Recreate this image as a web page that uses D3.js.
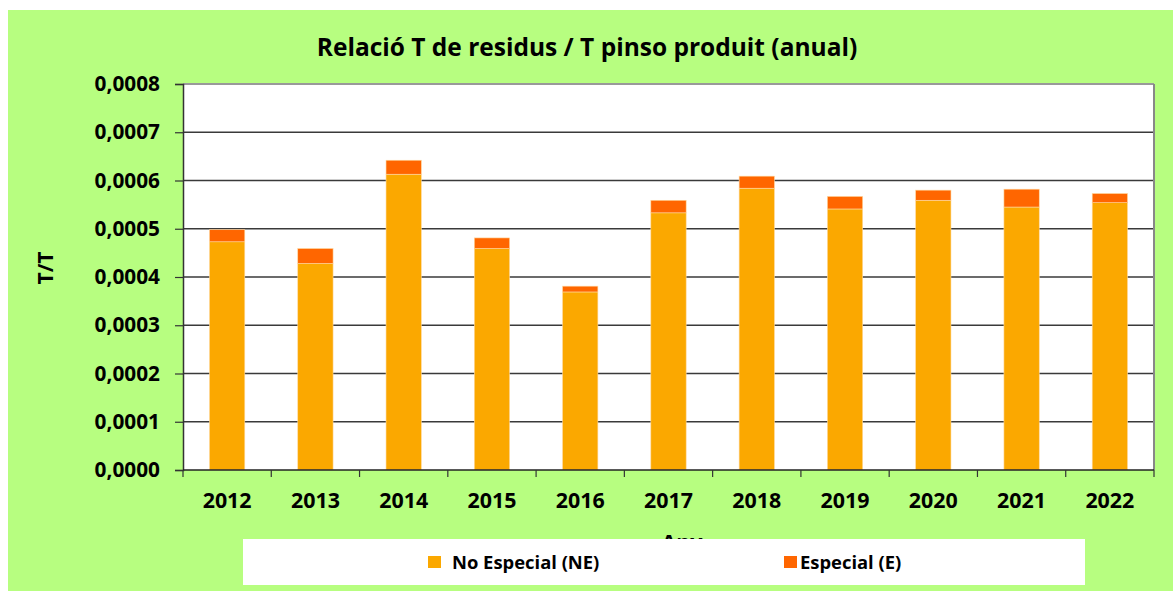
<!DOCTYPE html>
<html>
<head>
<meta charset="utf-8">
<script src="https://cdn.jsdelivr.net/npm/d3@7"></script>
<style>
  html, body { margin: 0; padding: 0; background: #ffffff; }
  svg { display: block; }
  text { font-family: "Open Sans", "Noto Sans", sans-serif; font-weight: bold; fill: #000; }
</style>
</head>
<body>
<svg id="chart" width="1173" height="591"></svg>
<script>
// ---- data ----
const years = ["2012","2013","2014","2015","2016","2017","2018","2019","2020","2021","2022"];
const noEspecial = [0.000473,0.000428,0.000613,0.000459,0.000369,0.000533,0.000584,0.000541,0.000559,0.000545,0.000554];
const especial   = [0.000025,0.000031,0.000029,0.000022,0.000012,0.000026,0.000025,0.000026,0.000021,0.000037,0.000019];
const yTicks = [0,0.0001,0.0002,0.0003,0.0004,0.0005,0.0006,0.0007,0.0008];
const seriesNames = ["No Especial (NE)","Especial (E)"];
const seriesKeys = ["ne","e"];
const titleText = "Relació T de residus / T pinso produit (anual)";
const yTitle = "T/T";
const xTitle = "Any";

const colors = { ne: "#FBA800", e: "#FF6600" };

const svg = d3.select("#chart");
const W = 1173, H = 591;
const plot = { left: 183, right: 1154, top: 84, bottom: 470 };

// background
svg.append("rect").attr("x", 8).attr("y", 10).attr("width", W - 8).attr("height", H - 10)
  .attr("fill", "#B7FE80");

// plot area
svg.append("rect").attr("x", plot.left).attr("y", plot.top)
  .attr("width", plot.right - plot.left).attr("height", plot.bottom - plot.top)
  .attr("fill", "#ffffff");

const x = d3.scaleBand().domain(years).range([plot.left, plot.right])
  .paddingInner(0.6).paddingOuter(0.3);
const y = d3.scaleLinear().domain([0, 0.0008]).range([plot.bottom, plot.top]);

const locale = d3.formatLocale({ decimal: ",", thousands: ".", grouping: [3], currency: ["", "€"] });
const fmt = locale.format(".4f");

// gridlines
svg.append("g").selectAll("line").data(yTicks.filter(t => t > 0 && t < 0.0008)).join("line")
  .attr("x1", plot.left).attr("x2", plot.right)
  .attr("y1", d => y(d)).attr("y2", d => y(d))
  .attr("stroke", "#3a3a3a").attr("stroke-width", 1.4);

// stacked bars
const rows = years.map((yr, i) => ({ year: yr, ne: noEspecial[i], e: especial[i] }));
const stack = d3.stack().keys(seriesKeys)(rows);
svg.append("g").selectAll("g").data(stack).join("g")
  .attr("fill", d => colors[d.key])
  .selectAll("rect").data(d => d).join("rect")
  .attr("x", d => x(d.data.year))
  .attr("width", x.bandwidth())
  .attr("y", d => y(d[1]))
  .attr("height", d => y(d[0]) - y(d[1]))
  .attr("stroke", "#ffd9a0").attr("stroke-width", 0.6);

// plot border (top/right gray)
svg.append("line").attr("x1", plot.left).attr("x2", plot.right).attr("y1", plot.top).attr("y2", plot.top)
  .attr("stroke", "#999").attr("stroke-width", 2);
svg.append("line").attr("x1", plot.right).attr("x2", plot.right).attr("y1", plot.top).attr("y2", plot.bottom)
  .attr("stroke", "#888").attr("stroke-width", 2);

// y axis
const yAxis = d3.axisLeft(y).tickValues(yTicks).tickFormat(fmt).tickSize(8).tickPadding(15);
const gy = svg.append("g").attr("transform", `translate(${plot.left},0)`).call(yAxis);
gy.select(".domain").attr("stroke", "#333").attr("stroke-width", 1.5);
gy.selectAll(".tick line").attr("stroke", "#333").attr("stroke-width", 1.2);
gy.selectAll("text").attr("font-size", 20.8).attr("font-family", "Open Sans").attr("font-weight", "bold").attr("fill", "#000");

// x axis: ticks between categories
svg.append("line").attr("x1", plot.left).attr("x2", plot.right).attr("y1", plot.bottom).attr("y2", plot.bottom)
  .attr("stroke", "#222").attr("stroke-width", 1.5);
const bounds = years.map(yr => x(yr) - x.step() * x.paddingOuter()).concat([plot.right]);
svg.append("g").selectAll("line").data(bounds).join("line")
  .attr("x1", d => d).attr("x2", d => d)
  .attr("y1", plot.bottom).attr("y2", plot.bottom + 7)
  .attr("stroke", "#333").attr("stroke-width", 1.2);
svg.append("g").selectAll("text").data(years).join("text")
  .attr("x", d => x(d) + x.bandwidth() / 2)
  .attr("y", 508)
  .attr("text-anchor", "middle")
  .attr("font-size", 21.4)
  .text(d => d);

// axis titles
svg.append("text").attr("transform", "translate(53,268) rotate(-90)")
  .attr("text-anchor", "middle").attr("font-size", 21).text(yTitle);
svg.append("text").attr("x", 682).attr("y", 550)
  .attr("text-anchor", "middle").attr("font-size", 21.4).text(xTitle);

// title
svg.append("text").attr("x", 587).attr("y", 56)
  .attr("text-anchor", "middle").attr("font-size", 24.5).text(titleText);

// legend
svg.append("rect").attr("x", 243).attr("y", 539).attr("width", 842).attr("height", 46).attr("fill", "#fff");
const legendPos = [428, 784];
const lg = svg.append("g").selectAll("g").data(seriesKeys).join("g")
  .attr("transform", (d, i) => `translate(${legendPos[i]},556)`);
lg.append("rect").attr("width", 13).attr("height", 12).attr("fill", d => colors[d]);
lg.append("text").attr("x", (d, i) => i === 0 ? 24 : 16).attr("y", 12.5)
  .attr("font-size", 18.4).text((d, i) => seriesNames[i]);
</script>
</body>
</html>
